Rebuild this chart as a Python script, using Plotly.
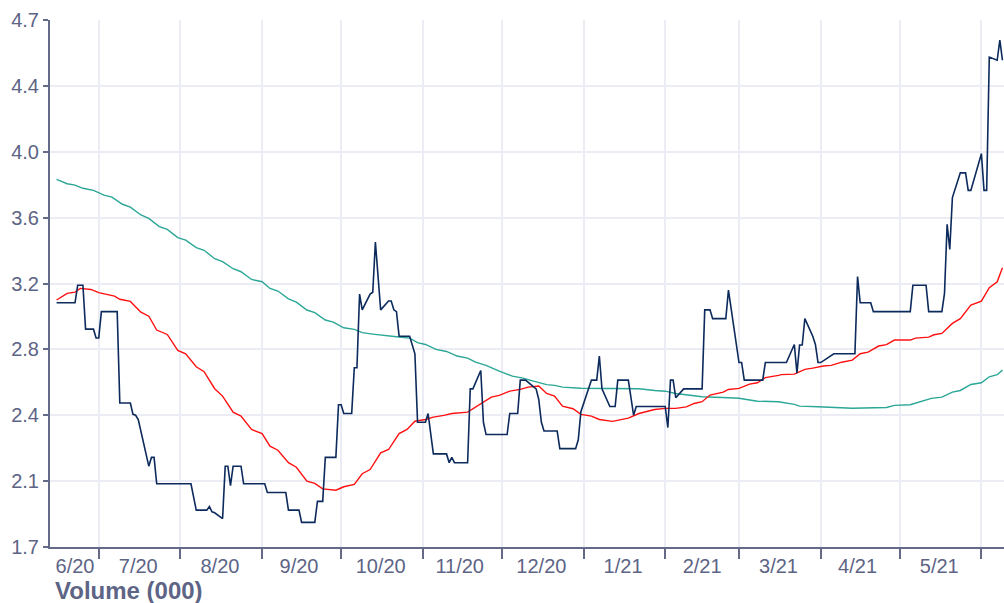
import plotly.graph_objects as go

# Closing price (vertices of the daily series)
price_dates = [
    "2020-06-15", "2020-06-22", "2020-06-23", "2020-06-25", "2020-06-26", "2020-06-29",
    "2020-06-30", "2020-07-01", "2020-07-02", "2020-07-08", "2020-07-09", "2020-07-13",
    "2020-07-14", "2020-07-15", "2020-07-16", "2020-07-20", "2020-07-21", "2020-07-22",
    "2020-07-23", "2020-08-05", "2020-08-07", "2020-08-11", "2020-08-12", "2020-08-13",
    "2020-08-14", "2020-08-17", "2020-08-18", "2020-08-19", "2020-08-20", "2020-08-21",
    "2020-08-24", "2020-08-25", "2020-09-02", "2020-09-03", "2020-09-10", "2020-09-11",
    "2020-09-15", "2020-09-16", "2020-09-21", "2020-09-22", "2020-09-24", "2020-09-25",
    "2020-09-29", "2020-09-30", "2020-10-01", "2020-10-02", "2020-10-05", "2020-10-06",
    "2020-10-07", "2020-10-08", "2020-10-09", "2020-10-12", "2020-10-13", "2020-10-14",
    "2020-10-16", "2020-10-19", "2020-10-20", "2020-10-21", "2020-10-22", "2020-10-23",
    "2020-10-27", "2020-10-29", "2020-10-30", "2020-11-02", "2020-11-03", "2020-11-05",
    "2020-11-10", "2020-11-11", "2020-11-12", "2020-11-13", "2020-11-18", "2020-11-19",
    "2020-11-20", "2020-11-23", "2020-11-24", "2020-11-25", "2020-12-03", "2020-12-04",
    "2020-12-07", "2020-12-08", "2020-12-10", "2020-12-14", "2020-12-15", "2020-12-16",
    "2020-12-17", "2020-12-22", "2020-12-23", "2020-12-29", "2020-12-30", "2020-12-31",
    "2021-01-04", "2021-01-06", "2021-01-07", "2021-01-08", "2021-01-11", "2021-01-13",
    "2021-01-14", "2021-01-18", "2021-01-20", "2021-01-21", "2021-02-01", "2021-02-02",
    "2021-02-03", "2021-02-04", "2021-02-05", "2021-02-08", "2021-02-15", "2021-02-16",
    "2021-02-18", "2021-02-19", "2021-02-24", "2021-02-25", "2021-03-01", "2021-03-02",
    "2021-03-03", "2021-03-10", "2021-03-11", "2021-03-19", "2021-03-22", "2021-03-23",
    "2021-03-24", "2021-03-25", "2021-03-26", "2021-03-29", "2021-03-30", "2021-03-31",
    "2021-04-01", "2021-04-06", "2021-04-14", "2021-04-15", "2021-04-16", "2021-04-20",
    "2021-04-21", "2021-05-05", "2021-05-06", "2021-05-11", "2021-05-12", "2021-05-17",
    "2021-05-18", "2021-05-19", "2021-05-20", "2021-05-21", "2021-05-24", "2021-05-26",
    "2021-05-27", "2021-05-28", "2021-06-01", "2021-06-02", "2021-06-03", "2021-06-04",
    "2021-06-07", "2021-06-08", "2021-06-09",
]
price_values = [
    3.09, 3.09, 3.19, 3.19, 2.94, 2.94,
    2.89, 2.89, 3.04, 3.04, 2.52, 2.52,
    2.455, 2.45, 2.426, 2.16, 2.21, 2.21,
    2.06, 2.06, 1.91, 1.91, 1.93, 1.90,
    1.895, 1.862, 2.16, 2.16, 2.05, 2.16,
    2.16, 2.06, 2.06, 2.01, 2.01, 1.91,
    1.91, 1.84, 1.84, 1.96, 1.96, 2.21,
    2.21, 2.51, 2.51, 2.46, 2.46, 2.72,
    2.72, 3.14, 3.05, 3.14, 3.15, 3.436,
    3.05, 3.10, 3.10, 3.05, 3.04, 2.90,
    2.90, 2.80, 2.41, 2.41, 2.46, 2.23,
    2.23, 2.18, 2.21, 2.18, 2.18, 2.60,
    2.60, 2.705, 2.41, 2.34, 2.34, 2.46,
    2.46, 2.65, 2.65, 2.60, 2.54, 2.41,
    2.36, 2.36, 2.26, 2.26, 2.31, 2.47,
    2.65, 2.65, 2.787, 2.60, 2.50, 2.50,
    2.65, 2.65, 2.45, 2.50, 2.50, 2.38,
    2.65, 2.65, 2.55, 2.60, 2.60, 3.05,
    3.05, 3.00, 3.00, 3.162, 2.75, 2.75,
    2.65, 2.65, 2.75, 2.75, 2.853, 2.69,
    2.85, 2.85, 3.00, 2.90, 2.853, 2.75,
    2.75, 2.80, 2.80, 3.239, 3.09, 3.09,
    3.04, 3.04, 3.19, 3.19, 3.04, 3.04,
    3.144, 3.537, 3.394, 3.689, 3.83, 3.83,
    3.73, 3.73, 3.939, 3.73, 3.73, 4.489,
    4.471, 4.585, 4.471,
]

# Short moving average
ma_short_dates = [
    "2020-06-15", "2020-06-19", "2020-06-22", "2020-06-24", "2020-06-28", "2020-07-01",
    "2020-07-07", "2020-07-09", "2020-07-13", "2020-07-17", "2020-07-20", "2020-07-23",
    "2020-07-27", "2020-07-31", "2020-08-03", "2020-08-07", "2020-08-10", "2020-08-14",
    "2020-08-17", "2020-08-21", "2020-08-24", "2020-08-28", "2020-09-01", "2020-09-04",
    "2020-09-07", "2020-09-11", "2020-09-14", "2020-09-18", "2020-09-21", "2020-09-24",
    "2020-09-29", "2020-10-02", "2020-10-06", "2020-10-09", "2020-10-12", "2020-10-16",
    "2020-10-19", "2020-10-23", "2020-10-26", "2020-10-29", "2020-11-02", "2020-11-05",
    "2020-11-09", "2020-11-12", "2020-11-18", "2020-11-20", "2020-11-23", "2020-11-27",
    "2020-11-30", "2020-12-04", "2020-12-08", "2020-12-11", "2020-12-15", "2020-12-18",
    "2020-12-21", "2020-12-24", "2020-12-28", "2020-12-31", "2021-01-04", "2021-01-07",
    "2021-01-12", "2021-01-15", "2021-01-18", "2021-01-22", "2021-01-28", "2021-02-01",
    "2021-02-05", "2021-02-09", "2021-02-12", "2021-02-15", "2021-02-18", "2021-02-23",
    "2021-02-25", "2021-03-01", "2021-03-05", "2021-03-08", "2021-03-11", "2021-03-16",
    "2021-03-17", "2021-03-22", "2021-03-26", "2021-03-29", "2021-04-02", "2021-04-05",
    "2021-04-09", "2021-04-13", "2021-04-16", "2021-04-19", "2021-04-23", "2021-04-26",
    "2021-04-29", "2021-05-05", "2021-05-07", "2021-05-12", "2021-05-14", "2021-05-17",
    "2021-05-21", "2021-05-24", "2021-05-28", "2021-06-01", "2021-06-04", "2021-06-07",
    "2021-06-09",
]
ma_short_values = [
    3.106, 3.144, 3.151, 3.172, 3.166, 3.148,
    3.128, 3.110, 3.098, 3.037, 3.014, 2.935,
    2.910, 2.819, 2.800, 2.726, 2.698, 2.601,
    2.559, 2.468, 2.445, 2.369, 2.346, 2.274,
    2.251, 2.180, 2.154, 2.075, 2.062, 2.031,
    2.023, 2.043, 2.056, 2.117, 2.141, 2.236,
    2.255, 2.346, 2.369, 2.416, 2.426, 2.439,
    2.449, 2.460, 2.468, 2.487, 2.512, 2.553,
    2.563, 2.587, 2.597, 2.610, 2.616, 2.574,
    2.559, 2.502, 2.487, 2.455, 2.445, 2.426,
    2.415, 2.426, 2.434, 2.460, 2.483, 2.489,
    2.489, 2.498, 2.517, 2.527, 2.565, 2.582,
    2.597, 2.603, 2.627, 2.635, 2.664, 2.677,
    2.681, 2.684, 2.711, 2.718, 2.730, 2.734,
    2.752, 2.764, 2.800, 2.809, 2.844, 2.852,
    2.878, 2.878, 2.889, 2.895, 2.908, 2.916,
    2.973, 3.000, 3.077, 3.100, 3.176, 3.210,
    3.290,
]

# Long moving average
ma_long_dates = [
    "2020-06-15", "2020-06-19", "2020-06-22", "2020-06-25", "2020-06-29", "2020-07-03",
    "2020-07-06", "2020-07-10", "2020-07-13", "2020-07-17", "2020-07-20", "2020-07-24",
    "2020-07-27", "2020-07-31", "2020-08-03", "2020-08-07", "2020-08-10", "2020-08-14",
    "2020-08-17", "2020-08-21", "2020-08-24", "2020-08-28", "2020-09-01", "2020-09-04",
    "2020-09-07", "2020-09-11", "2020-09-14", "2020-09-18", "2020-09-21", "2020-09-25",
    "2020-09-28", "2020-10-02", "2020-10-06", "2020-10-09", "2020-10-13", "2020-10-17",
    "2020-10-22", "2020-10-27", "2020-10-30", "2020-11-02", "2020-11-06", "2020-11-10",
    "2020-11-14", "2020-11-18", "2020-11-21", "2020-11-25", "2020-11-30", "2020-12-05",
    "2020-12-09", "2020-12-13", "2020-12-15", "2020-12-18", "2020-12-21", "2020-12-24",
    "2020-12-31", "2021-01-12", "2021-01-22", "2021-01-28", "2021-02-01", "2021-02-05",
    "2021-02-10", "2021-02-15", "2021-02-25", "2021-03-01", "2021-03-08", "2021-03-16",
    "2021-03-22", "2021-03-24", "2021-03-31", "2021-04-06", "2021-04-13", "2021-04-26",
    "2021-04-29", "2021-05-05", "2021-05-08", "2021-05-13", "2021-05-17", "2021-05-21",
    "2021-05-24", "2021-05-28", "2021-06-01", "2021-06-04", "2021-06-07", "2021-06-09",
]
ma_long_values = [
    3.793, 3.768, 3.760, 3.742, 3.730, 3.703,
    3.692, 3.651, 3.635, 3.590, 3.571, 3.524,
    3.508, 3.461, 3.447, 3.404, 3.389, 3.341,
    3.324, 3.284, 3.267, 3.223, 3.210, 3.172,
    3.157, 3.113, 3.094, 3.049, 3.034, 2.992,
    2.980, 2.948, 2.939, 2.920, 2.912, 2.904,
    2.897, 2.889, 2.863, 2.853, 2.825, 2.813,
    2.787, 2.775, 2.752, 2.734, 2.701, 2.673,
    2.661, 2.644, 2.635, 2.624, 2.620, 2.610,
    2.604, 2.603, 2.601, 2.591, 2.587, 2.574,
    2.563, 2.555, 2.550, 2.547, 2.530, 2.527,
    2.512, 2.502, 2.498, 2.494, 2.490, 2.494,
    2.506, 2.510, 2.525, 2.546, 2.553, 2.582,
    2.591, 2.625, 2.635, 2.669, 2.681, 2.707,
]

# Axis ticks
y_tick_vals = [1.7, 2.075, 2.45, 2.825, 3.2, 3.575, 3.95, 4.325, 4.7]
y_tick_text = ["1.7", "2.1", "2.4", "2.8", "3.2", "3.6", "4.0", "4.4", "4.7"]
month_label_dates = [
    "2020-06-22", "2020-07-16", "2020-08-16", "2020-09-15", "2020-10-16", "2020-11-15",
    "2020-12-16", "2021-01-16", "2021-02-15", "2021-03-16", "2021-04-15", "2021-05-16",
]
month_labels = ["6/20", "7/20", "8/20", "9/20", "10/20", "11/20",
                "12/20", "1/21", "2/21", "3/21", "4/21", "5/21"]

AXIS_COLOR = "#646a88"
TEXT_COLOR = "#5d6485"
GRID_COLOR = "#ececf4"

fig = go.Figure()
fig.add_trace(go.Scatter(x=ma_long_dates, y=ma_long_values, mode="lines",
                         line=dict(color="#2aa796", width=1.4), hoverinfo="skip"))
fig.add_trace(go.Scatter(x=ma_short_dates, y=ma_short_values, mode="lines",
                         line=dict(color="#ff1010", width=1.4), hoverinfo="skip"))
fig.add_trace(go.Scatter(x=price_dates, y=price_values, mode="lines",
                         line=dict(color="#0c2a5c", width=1.6), hoverinfo="skip"))

fig.update_layout(
    width=1004, height=603,
    margin=dict(l=50, r=0, t=20, b=56),
    paper_bgcolor="white", plot_bgcolor="white",
    showlegend=False,
    font=dict(family="Liberation Sans, Arial, sans-serif", color=TEXT_COLOR, size=20),
    xaxis=dict(
        type="date",
        range=["2020-06-12 12:00", "2021-06-09 14:00"],
        tickmode="array", tickvals=month_label_dates, ticktext=month_labels,
        ticks="", showgrid=False, zeroline=False,
        showline=True, linecolor=AXIS_COLOR, linewidth=2,
        tickfont=dict(size=20, color=TEXT_COLOR),
        minor=dict(dtick="M1", tick0="2020-07-01", ticks="outside", ticklen=10,
                   tickwidth=2, tickcolor=AXIS_COLOR,
                   showgrid=True, gridcolor=GRID_COLOR, gridwidth=1.5),
    ),
    yaxis=dict(
        range=[1.7, 4.7],
        tickmode="array", tickvals=y_tick_vals, ticktext=y_tick_text,
        ticks="outside", ticklen=5, tickwidth=2, tickcolor=AXIS_COLOR,
        showline=True, linecolor=AXIS_COLOR, linewidth=2,
        showgrid=True, gridcolor=GRID_COLOR, gridwidth=1.5, zeroline=False,
        tickfont=dict(size=20, color=TEXT_COLOR),
    ),
    annotations=[dict(
        text="<b>Volume (000)</b>", xref="paper", yref="paper",
        x=0, y=-0.082, xanchor="left", yanchor="middle", xshift=3,
        showarrow=False, font=dict(size=24, color=TEXT_COLOR),
    )],
)

fig.write_html("out.html")
